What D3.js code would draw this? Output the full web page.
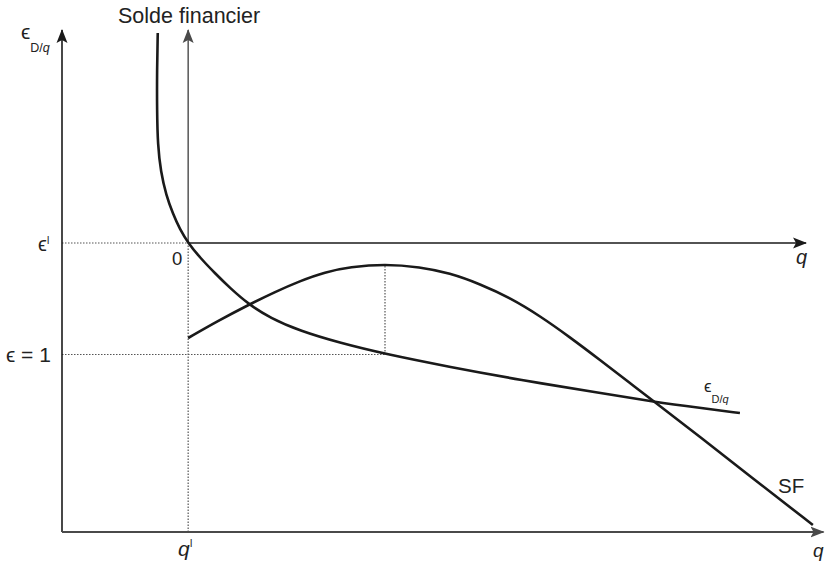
<!DOCTYPE html>
<html>
<head>
<meta charset="utf-8">
<script src="https://cdn.jsdelivr.net/npm/d3@7"></script>
<style>
  body { margin: 0; background: #fff; }
  text { font-family: "Liberation Sans", Arial, Helvetica, sans-serif; fill: #222; }
</style>
</head>
<body>
<svg width="828" height="563"></svg>
<script>
// key positions (chart units, 0..100 on both axes)
var qI = 16.6, epsI = 57.8, epsOne = 35.5, qStar = 42.5;

// elasticity curve eps D/q
var epsCurve = [
  [12.6, 99.8], [12.5, 92.4], [12.5, 84.4], [12.6, 77.4], [13.0, 72.0],
  [13.7, 67.4], [14.6, 63.6], [15.5, 60.6], [16.6, 57.8], [18.2, 54.8],
  [20.1, 51.8], [22.1, 48.8], [24.5, 45.6], [27.4, 42.8], [31.3, 40.2],
  [36.6, 37.8], [42.5, 35.6], [51.0, 33.0], [60.3, 30.4], [70.8, 27.8],
  [78.0, 26.0], [84.0, 24.8], [89.2, 23.8]
];

// solde financier curve SF
var sfCurve = [
  [16.6, 38.8], [20.5, 42.2], [24.5, 45.4], [28.0, 48.0], [31.3, 50.2],
  [34.6, 52.0], [37.9, 53.0], [42.5, 53.6], [47.1, 53.0], [51.0, 51.8],
  [55.0, 49.6], [59.0, 46.8], [62.9, 43.2], [66.8, 39.0], [70.8, 34.4],
  [74.7, 29.8], [78.0, 26.0], [84.0, 19.0], [90.5, 11.2], [98.8, 1.4]
];

var svg = d3.select("svg");

var x = d3.scaleLinear().domain([0, 100]).range([62, 822]);
var y = d3.scaleLinear().domain([0, 100]).range([532, 32]);

var defs = svg.append("defs");
function marker(id, color) {
  defs.append("marker")
    .attr("id", id)
    .attr("viewBox", "0 -6 14 12")
    .attr("refX", 13).attr("refY", 0)
    .attr("markerUnits", "userSpaceOnUse")
    .attr("markerWidth", 14).attr("markerHeight", 12)
    .attr("orient", "auto")
    .append("path")
    .attr("d", "M0,-5.5L14,0L0,5.5L3,0Z")
    .attr("fill", color);
}
marker("arrDark", "#1a1a1a");
marker("arrGray", "#4a4a4a");

// dotted guides
var dotted = [
  [[0, epsI], [qI, epsI]],
  [[0, epsOne], [qStar, epsOne]],
  [[qStar, epsOne], [qStar, 53.4]],
  [[qI, 0], [qI, epsI]]
];
svg.append("g").selectAll("line")
  .data(dotted)
  .enter().append("line")
  .attr("x1", function(d) { return x(d[0][0]); })
  .attr("y1", function(d) { return y(d[0][1]); })
  .attr("x2", function(d) { return x(d[1][0]); })
  .attr("y2", function(d) { return y(d[1][1]); })
  .attr("stroke", "#555")
  .attr("stroke-width", 1.2)
  .attr("stroke-dasharray", "1.5,1.5");

// axes
var axes = [
  { a: [0, 0], b: [0, 100.4], c: "#1a1a1a", w: 1.6, m: "arrDark" },
  { a: [0, 0], b: [100.2, 0], c: "#4a4a4a", w: 2, m: "arrGray" },
  { a: [qI, epsI], b: [qI, 100.4], c: "#4a4a4a", w: 1.4, m: "arrGray" },
  { a: [qI, epsI], b: [97.9, epsI], c: "#1a1a1a", w: 1.4, m: "arrDark" }
];
svg.append("g").selectAll("line")
  .data(axes)
  .enter().append("line")
  .attr("x1", function(d) { return x(d.a[0]); })
  .attr("y1", function(d) { return y(d.a[1]); })
  .attr("x2", function(d) { return x(d.b[0]); })
  .attr("y2", function(d) { return y(d.b[1]); })
  .attr("stroke", function(d) { return d.c; })
  .attr("stroke-width", function(d) { return d.w; })
  .attr("marker-end", function(d) { return "url(#" + d.m + ")"; });

// curves
var line = d3.line()
  .x(function(d) { return x(d[0]); })
  .y(function(d) { return y(d[1]); })
  .curve(d3.curveBasis);

svg.append("path").datum(epsCurve)
  .attr("d", line)
  .attr("fill", "none").attr("stroke", "#1a1a1a").attr("stroke-width", 2.6);
svg.append("path").datum(sfCurve)
  .attr("d", line)
  .attr("fill", "none").attr("stroke", "#1a1a1a").attr("stroke-width", 2.6);

// labels
function label(tx, ty, str, size, style) {
  return svg.append("text")
    .attr("x", tx).attr("y", ty)
    .style("font-size", size + "px")
    .style("font-style", style || "normal")
    .text(str);
}

label(118, 23, "Solde financier", 21.5);

// eps D/q top-left
var t1 = svg.append("text").attr("x", 21).attr("y", 39).style("font-size", "21px");
t1.append("tspan").text("ϵ");
t1.append("tspan").attr("dy", 13).style("font-size", "12.5px").text("D/");
t1.append("tspan").style("font-size", "12.5px").style("font-style", "italic").text("q");

// eps I
var t2 = svg.append("text").attr("x", 38).attr("y", 251).style("font-size", "20px");
t2.append("tspan").text("ϵ");
t2.append("tspan").attr("dy", -7).style("font-size", "10px").text("I");

label(6, 362, "ϵ = 1", 21);
label(172, 265, "0", 18.5);
label(796, 264, "q", 20, "italic");

var t3 = svg.append("text").attr("x", 178).attr("y", 556).style("font-size", "21px");
t3.append("tspan").style("font-style", "italic").text("q");
t3.append("tspan").attr("dy", -9).style("font-size", "10px").text("I");

label(813, 557, "q", 19, "italic");

// eps D/q near curve
var t4 = svg.append("text").attr("x", 704).attr("y", 392).style("font-size", "17px");
t4.append("tspan").text("ϵ");
t4.append("tspan").attr("dy", 11).style("font-size", "11px").text("D/");
t4.append("tspan").style("font-style", "italic").style("font-size", "11px").text("q");

label(778, 493, "SF", 20.5);
</script>
</body>
</html>
